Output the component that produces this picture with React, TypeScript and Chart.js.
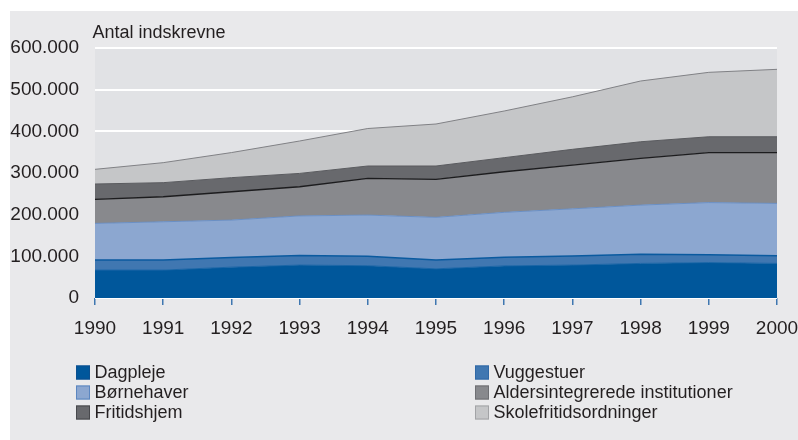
import React, { useEffect, useRef } from "react";
import { Chart, registerables } from "chart.js";

Chart.register(...registerables);

const years = ["1990", "1991", "1992", "1993", "1994", "1995", "1996", "1997", "1998", "1999", "2000"];

const dagpleje = [67000, 67000, 74000, 79000, 77500, 70000, 77000, 79000, 83000, 85000, 83000];
const vuggestuer = [24000, 24000, 23000, 23000, 22500, 21000, 20600, 22000, 22000, 19000, 18600];
const boernehaver = [88000, 92000, 90000, 95000, 99000, 102600, 108000, 113000, 118000, 125000, 125400];
const aldersintegrerede = [57800, 60000, 68000, 70000, 88000, 91200, 97400, 105000, 112000, 120000, 122000];
const fritidshjem = [36800, 33800, 33800, 32000, 29800, 32000, 33800, 37800, 40000, 38000, 38000];
const skolefritid = [35200, 48000, 60200, 77800, 90000, 100800, 112000, 126000, 145800, 154600, 161800];

const seriesNames = [
  "Dagpleje",
  "Vuggestuer",
  "Børnehaver",
  "Aldersintegrerede institutioner",
  "Fritidshjem",
  "Skolefritidsordninger",
];
const seriesValues = [dagpleje, vuggestuer, boernehaver, aldersintegrerede, fritidshjem, skolefritid];
const fillColors = ["#00579b", "#4077b1", "#8ca7d0", "#88898d", "#68696d", "#c5c6c8"];
const lineColors = ["#1a65a6", "#0a5a9f", "#6a8fc4", "#1c1c1e", "#5a5b5f", "#808185"];
const lineWidths = [1, 1.5, 1, 1.3, 1, 1];
const legendBorders = ["#0a4f8f", "#2f68a6", "#5b86c0", "#6e6f73", "#47484c", "#a2a3a6"];

const yTicks = [0, 100000, 200000, 300000, 400000, 500000, 600000];

const FONT = "'Liberation Sans', Arial, sans-serif";
const TEXT = "#231f20";

function fmt(v: number): string {
  if (v === 0) return "0";
  return String(Math.round(v / 1000)) + ".000";
}

const bgPlugin = {
  id: "plotBg",
  beforeDraw(chart: any) {
    const { ctx, chartArea } = chart;
    ctx.save();
    ctx.fillStyle = "#e1e2e5";
    ctx.fillRect(chartArea.left, chartArea.top, chartArea.right - chartArea.left, chartArea.bottom - chartArea.top);
    ctx.restore();
  },
};

const decorPlugin = {
  id: "decor",
  afterDraw(chart: any) {
    const ctx = chart.ctx;
    ctx.save();
    ctx.fillStyle = TEXT;
    ctx.font = `18px ${FONT}`;
    ctx.textBaseline = "alphabetic";
    ctx.textAlign = "left";
    ctx.fillText("Antal indskrevne", 92.5, 38);

    const cols = [76, 475];
    const rows = [372.5, 392.5, 412.5];
    chart.data.datasets.forEach((ds: any, i: number) => {
      const col = i % 2;
      const row = Math.floor(i / 2);
      const x = cols[col];
      const yc = rows[row];
      ctx.fillStyle = fillColors[i];
      ctx.fillRect(x, yc - 7, 14, 14);
      ctx.strokeStyle = legendBorders[i];
      ctx.lineWidth = 1;
      ctx.strokeRect(x + 0.5, yc - 6.5, 13, 13);
      ctx.fillStyle = TEXT;
      ctx.font = `18px ${FONT}`;
      ctx.textBaseline = "middle";
      ctx.fillText(ds.label, x + 18.5, yc + 0.5);
    });
    ctx.restore();
  },
};

export default function App() {
  const ref = useRef<HTMLCanvasElement | null>(null);

  useEffect(() => {
    if (!ref.current) return;
    const chart = new Chart(ref.current, {
      type: "line",
      data: {
        labels: years,
        datasets: seriesValues.map((vals, i) => ({
          label: seriesNames[i],
          data: vals,
          backgroundColor: fillColors[i],
          borderColor: lineColors[i],
          borderWidth: lineWidths[i],
          fill: i === 0 ? "origin" : "-1",
          pointRadius: 0,
          pointHoverRadius: 0,
          tension: 0,
        })),
      },
      options: {
        responsive: false,
        animation: false,
        devicePixelRatio: 1,
        layout: { padding: { left: 0, right: 21, top: 48, bottom: 92 } },
        plugins: {
          legend: { display: false },
          title: { display: false },
          tooltip: { enabled: false },
        },
        scales: {
          x: {
            offset: false,
            grid: {
              drawOnChartArea: false,
              drawTicks: true,
              tickLength: 7,
              color: "#3f77b0",
              lineWidth: 1.5,
            },
            border: { display: false },
            ticks: {
              font: { family: FONT, size: 19 },
              color: TEXT,
              padding: 12,
              maxRotation: 0,
              autoSkip: false,
            },
            afterFit(scale: any) {
              scale.height = 50;
              scale.paddingLeft = 0;
              scale.paddingRight = 0;
            },
          },
          y: {
            stacked: true,
            min: 0,
            max: 600000,
            afterBuildTicks(scale: any) {
              scale.ticks = yTicks.map((v) => ({ value: v }));
            },
            grid: {
              drawTicks: false,
              color: "#ffffff",
              lineWidth: 2,
            },
            border: { display: false },
            ticks: {
              font: { family: FONT, size: 19 },
              color: TEXT,
              padding: 16,
              callback: (v: any) => fmt(Number(v)),
            },
            afterFit(scale: any) {
              scale.width = 95;
              scale.paddingTop = 0;
              scale.paddingBottom = 0;
            },
          },
        },
      },
      plugins: [bgPlugin, decorPlugin],
    });
    return () => chart.destroy();
  }, []);

  return (
    <div style={{ position: "absolute", left: 0, top: 0, width: 798, height: 440, background: "#ffffff", overflow: "hidden" }}>
      <div style={{ position: "absolute", left: 10, top: 11, right: 0, bottom: 0, background: "#e9e9eb" }} />
      <canvas ref={ref} width={798} height={440} style={{ position: "absolute", left: 0, top: 0, width: 798, height: 440 }} />
    </div>
  );
}
